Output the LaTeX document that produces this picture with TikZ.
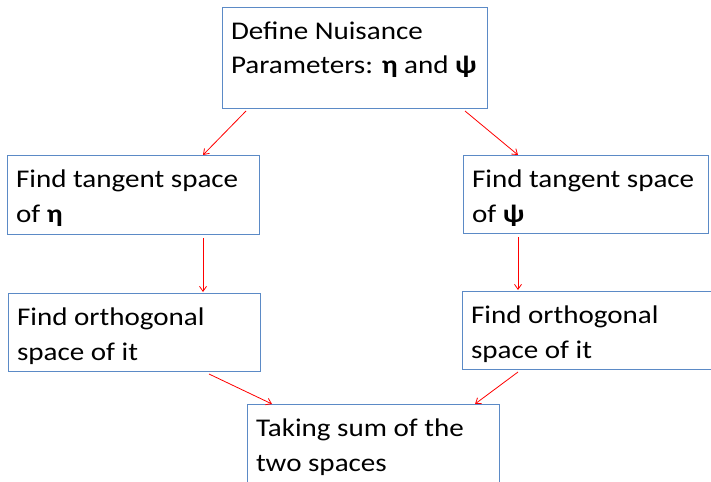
\documentclass[tikz,border=0pt]{standalone}
\usepackage{fontspec}
\setmainfont{Carlito}[FakeStretch=1.14]
\usepackage{tikz}
\usetikzlibrary{arrows.meta}
\definecolor{boxblue}{HTML}{5B8AC6}
\definecolor{arrred}{HTML}{FF0000}
\newcommand{\boxtext}[3]{\parbox[t][#2][t]{#1}{\rule{0pt}{32bp}#3}}

\begin{document}
\begin{tikzpicture}[
  x=1bp, y=-1bp,
  >={Straight Barb[length=5bp,width=7bp]},
  box/.style={draw=boxblue, line width=1bp, anchor=north west,
    inner xsep=8.5bp, inner ysep=0pt,
    font=\fontsize{25.5bp}{34.5bp}\selectfont},
  arr/.style={->, draw=arrred, line width=0.8bp}
]
\clip (0,0) rectangle (711,482);
\node[box] (define) at (222,7)
  {\boxtext{248bp}{101bp}{Define Nuisance\\Parameters: \textbf{η} and \textbf{ψ}}};
\node[box] (tanEta) at (7,155)
  {\boxtext{235bp}{79bp}{Find tangent space\\of \textbf{η}}};
\node[box] (tanPsi) at (463,155)
  {\boxtext{228bp}{78bp}{Find tangent space\\of \textbf{ψ}}};
\node[box] (orthEta) at (8,293)
  {\boxtext{235bp}{78bp}{Find orthogonal\\space of it}};
\node[box] (orthPsi) at (462,291)
  {\boxtext{243bp}{78bp}{Find orthogonal\\space of it}};
\node[box] (sum) at (247,404)
  {\boxtext{235bp}{110bp}{Taking sum of the\\two spaces}};
\draw[arr] ([shift={(24,2)}]define.south west) -- ([shift={(196,0)}]tanEta.north west);
\draw[arr] ([shift={(-23,2)}]define.south east) -- ([shift={(55,0)}]tanPsi.north west);
\draw[arr] ([shift={(196,3)}]tanEta.south west) -- ([shift={(195,-1)}]orthEta.north west);
\draw[arr] ([shift={(55,3)}]tanPsi.south west) -- ([shift={(56,-1)}]orthPsi.north west);
\draw[arr] ([shift={(201,2)}]orthEta.south west) -- ([shift={(25,0)}]sum.north west);
\draw[arr] ([shift={(56,2)}]orthPsi.south west) -- ([shift={(228,0)}]sum.north west);
\end{tikzpicture}
\end{document}
